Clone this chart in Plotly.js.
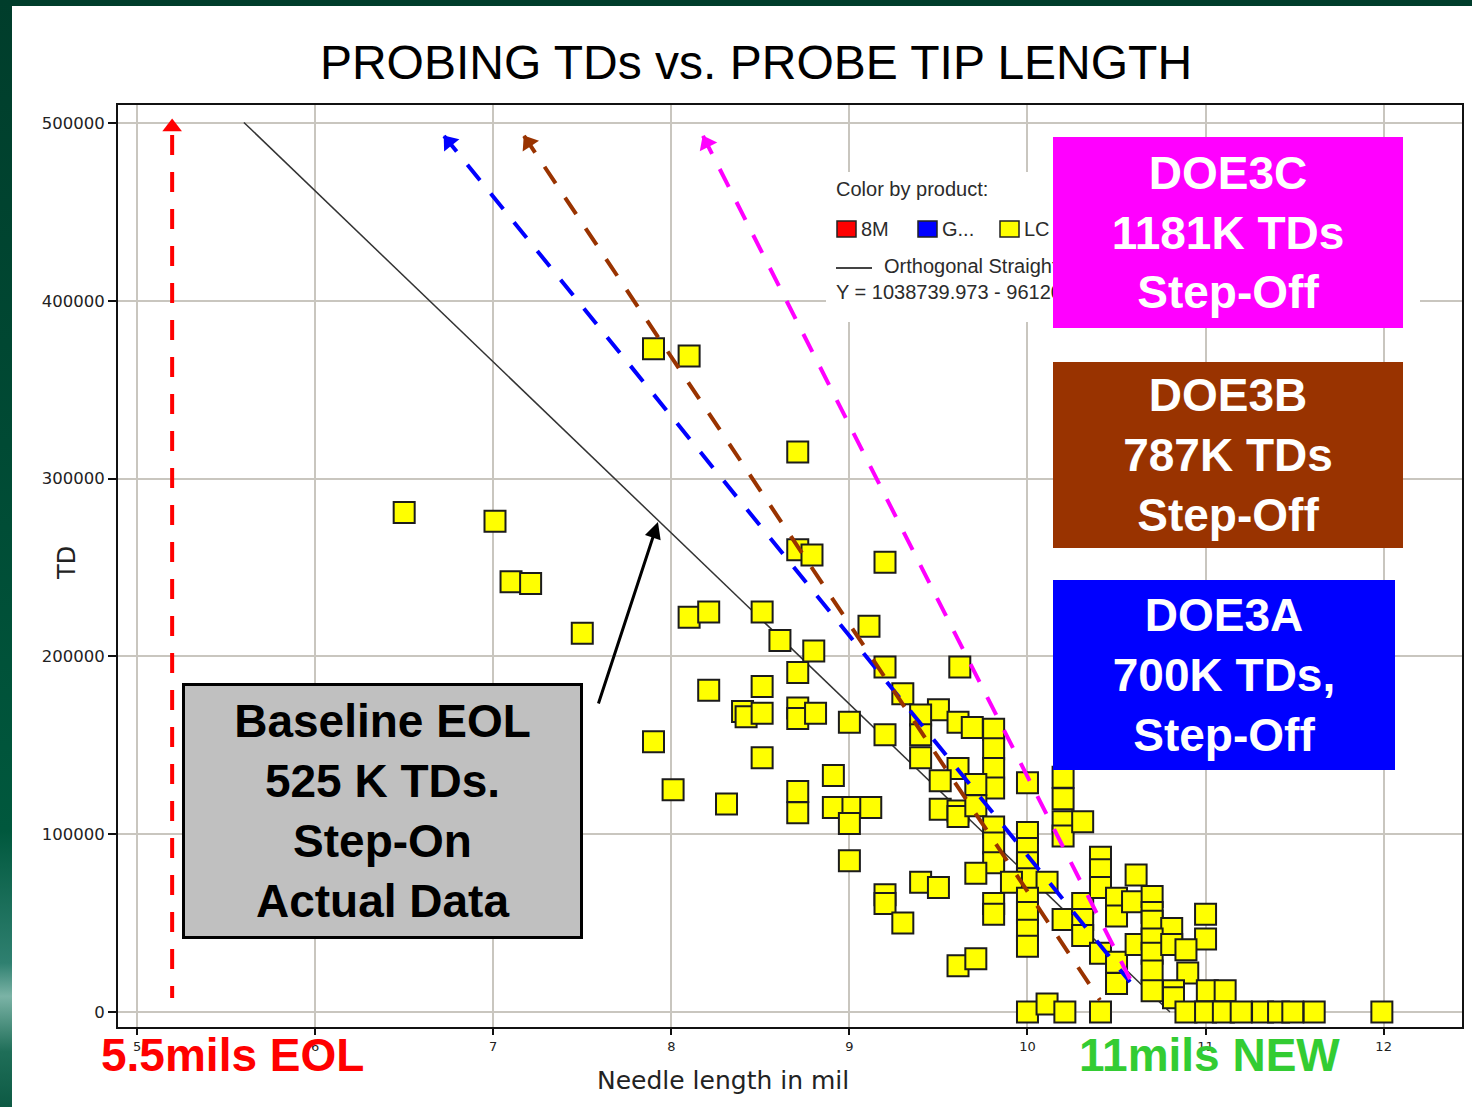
<!DOCTYPE html>
<html>
<head>
<meta charset="utf-8">
<script src="https://cdn.plot.ly/plotly-3.0.1.min.js"></script>
<style>
  html, body { margin: 0; padding: 0; width: 1472px; height: 1107px; overflow: hidden; }
  body { background: linear-gradient(to bottom, #003d2b 0%, #004a34 40%, #00583d 75%, #2f8070 87%, #7bb3a6 90%, #1f6e58 95%, #0d5a44 100%); position: relative; }
  #paper { position: absolute; left: 12px; top: 6px; width: 1460px; height: 1101px; background: #ffffff; }
  #chart { position: absolute; left: 0; top: 0; width: 1472px; height: 1107px; }
</style>
</head>
<body>
<div id="paper"></div>
<div id="chart"></div>
<script>
// ---------------- data ----------------
const pointsX = [
  6.50, 7.01, 7.10, 7.21, 7.50, 7.90, 8.10, 8.71, 8.71, 8.79, 9.20,
  8.10, 8.21, 8.51, 8.61, 8.80, 9.11, 8.71, 9.20, 8.21, 8.51, 8.40, 8.42, 8.51, 8.71, 8.71, 8.81, 9.00, 9.20,
  7.90, 8.51, 8.01, 8.31, 8.71, 8.71, 8.91, 8.91, 9.02, 9.12, 9.00, 9.00, 9.20, 9.20, 9.30, 9.40, 9.50,
  9.30, 9.62, 9.50, 9.40, 9.40, 9.40, 9.61, 9.69, 9.81, 9.81, 9.81, 9.81, 9.61, 9.71, 9.51, 9.51, 9.61, 9.61,
  9.71, 9.81, 9.81, 9.81, 10.00, 10.00, 10.00, 10.00, 10.00, 10.20, 10.20, 10.20, 10.20, 10.31, 9.71, 9.91,
  10.11, 9.81, 9.81, 10.00, 10.00, 10.00, 10.00, 10.20, 10.31, 10.31, 10.31, 10.41, 10.41, 10.41, 10.41,
  10.50, 10.50, 10.50, 10.50, 9.61, 9.71, 10.00, 10.11, 10.21, 10.41,
  10.61, 10.59, 10.70, 10.70, 10.70, 10.81, 11.00, 11.00, 10.61, 10.70, 10.70, 10.81, 10.89, 10.70, 10.90,
  10.70, 10.82, 11.01, 11.11, 10.82, 10.89, 11.00, 11.10, 11.20, 11.32, 11.41, 11.49, 11.61, 11.99
];
const pointsY = [
  281000, 276000, 242000, 241000, 213000, 373000, 369000, 315000, 260000, 257000, 253000,
  222000, 225000, 225000, 209000, 203000, 217000, 191000, 194000, 181000, 183000, 169000, 166000, 168000, 171000, 165000, 168000, 163000, 156000,
  152000, 143000, 125000, 117000, 124000, 112000, 133000, 115000, 115000, 115000, 106000, 85000, 66000, 61000, 50000, 73000, 70000,
  179000, 194000, 170000, 167000, 156000, 143000, 163000, 160000, 159000, 148000, 137000, 126000, 137000, 128000, 130000, 114000, 113000, 110000,
  116000, 104000, 95000, 84000, 101000, 92000, 84000, 75000, 129000, 132000, 120000, 107000, 99000, 107000, 78000, 73000,
  73000, 61000, 55000, 64000, 56000, 46000, 37000, 52000, 61000, 52000, 43000, 87000, 80000, 70000, 33000,
  64000, 54000, 28000, 16000, 26000, 30000, 0, 4500, 0, 0,
  77000, 62000, 65000, 56000, 51000, 47000, 55000, 41000, 38000, 41000, 33000, 38000, 35000, 23000, 22000,
  12000, 12000, 12000, 12000, 8000, 0, 0, 0, 0, 0, 0, 0, 0, 0
];

// orthogonal straight line fit (Y = 1038739.973 - 961xx * X)
const fitX = [5.60, 10.80];
const fitY = [500300, 0];

// dashed arrows (tip first, then tail)
const eolX = [5.197, 5.197];   const eolY = [493300, 7900];
const doe3aX = [6.724, 10.576]; const doe3aY = [492700, 16900];
const doe3bX = [7.173, 10.407]; const doe3bY = [492700, 6700];
const doe3cX = [8.178, 10.587]; const doe3cY = [492700, 16300];
// arrowhead centres
const headX = [5.197, 6.752, 7.198, 8.198];
const headY = [497800, 489300, 489000, 488700];

const xTicks = [5, 6, 7, 8, 9, 10, 11, 12];
const yTicks = [0, 100000, 200000, 300000, 400000, 500000];

const titleText = 'PROBING TDs vs. PROBE TIP LENGTH';
const boxC = ['DOE3C', '1181K TDs', 'Step-Off'];
const boxB = ['DOE3B', '787K TDs', 'Step-Off'];
const boxA = ['DOE3A', '700K TDs,', 'Step-Off'];
const boxBase = ['Baseline EOL', '525 K TDs.', 'Step-On', 'Actual Data'];

// ---------------- layout helpers (pixel -> paper) ----------------
const PL = 118, PR = 1462, PT = 105, PB = 1027;
const fx = px => (px - PL) / (PR - PL);
const fy = py => (PB - py) / (PB - PT);
const SANS = '"Liberation Sans", Arial, sans-serif';
const DEJA = '"DejaVu Sans", sans-serif';

function dashTrace(x, y, color) {
  return { x: x, y: y, type: 'scatter', mode: 'lines', hoverinfo: 'skip', showlegend: false,
    line: { color: color, width: 4, dash: '20px,17px' } };
}

const traces = [
  { x: fitX, y: fitY, type: 'scatter', mode: 'lines', showlegend: false,
    line: { color: '#333333', width: 1.5 } },
  dashTrace(eolX, eolY, '#ff0000'),
  { x: pointsX, y: pointsY, type: 'scatter', mode: 'markers', showlegend: false,
    marker: { symbol: 'square', size: 21, color: '#ffff00', line: { color: '#1c1c1c', width: 2 } } },
  dashTrace(doe3aX, doe3aY, '#0000ff'),
  dashTrace(doe3bX, doe3bY, '#993300'),
  dashTrace(doe3cX, doe3cY, '#ff00ff'),
  { x: headX, y: headY, type: 'scatter', mode: 'markers', showlegend: false, hoverinfo: 'skip',
    marker: { symbol: 'triangle-up', size: 17, color: ['#ff0000', '#0000ff', '#993300', '#ff00ff'],
      angle: [0, -39, -33.7, -26.9], line: { width: 0 } } }
];

function boxAnn(lines, cx, cy, w, h, bg, fg, bw) {
  return { xref: 'paper', yref: 'paper', x: fx(cx), y: fy(cy), xanchor: 'center', yanchor: 'middle',
    text: lines.join('<br>'), showarrow: false, align: 'center', valign: 'middle',
    width: w - 2 * bw, height: h - 2 * bw, bgcolor: bg, bordercolor: '#000000', borderwidth: bw, borderpad: 0,
    font: { family: SANS, size: 46, color: fg, weight: 'bold' } };
}
function legText(t, px, py) {
  return { xref: 'paper', yref: 'paper', x: fx(px), y: fy(py), xanchor: 'left', yanchor: 'middle',
    text: t, showarrow: false, font: { family: SANS, size: 20, color: '#2b2b2b' } };
}

const annotations = [
  { xref: 'paper', yref: 'paper', x: fx(67), y: fy(563), text: 'TD', textangle: -90, showarrow: false,
    xanchor: 'center', yanchor: 'middle', font: { family: DEJA, size: 24, color: '#222' } },
  { xref: 'paper', yref: 'paper', x: fx(723), y: fy(1080), text: 'Needle length in mil', showarrow: false,
    xanchor: 'center', yanchor: 'middle', font: { family: DEJA, size: 25, color: '#222' } },
  legText('Color by product:', 834, 189),
  legText('8M', 859, 229),
  legText('G...', 940, 229),
  legText('LC', 1022, 229),
  legText('Orthogonal Straight Line Fit', 882, 266),
  legText('Y = 1038739.973 - 96120.6 * X', 834, 292),
  boxAnn(boxC, 1228, 233, 350, 191, '#ff00ff', '#ffffff', 0),
  boxAnn(boxB, 1228, 455, 350, 186, '#993300', '#ffffff', 0),
  boxAnn(boxA, 1224, 675, 342, 190, '#0000ff', '#ffffff', 0),
  boxAnn(boxBase, 382.5, 811, 401, 256, '#c0c0c0', '#000000', 3),
  { xref: 'paper', yref: 'paper', x: fx(232), y: fy(1055), text: '5.5mils EOL', showarrow: false,
    xanchor: 'center', yanchor: 'middle', font: { family: SANS, size: 46, color: '#ff0000', weight: 'bold' } },
  { xref: 'paper', yref: 'paper', x: fx(1209), y: fy(1055), text: '11mils NEW', showarrow: false,
    xanchor: 'center', yanchor: 'middle', font: { family: SANS, size: 46, color: '#33cc33', weight: 'bold' } },
  { xref: 'x', yref: 'y', x: 7.925, y: 275600, ax: -60, ay: 183, text: '', showarrow: true,
    arrowhead: 2, arrowsize: 1.1, arrowwidth: 3, arrowcolor: '#000000' }
];

const shapes = [
  { type: 'rect', xref: 'paper', yref: 'paper', x0: fx(826), x1: fx(1420), y0: fy(322), y1: fy(172),
    fillcolor: '#ffffff', line: { width: 0 }, layer: 'above' },
  { type: 'rect', xref: 'paper', yref: 'paper', x0: fx(837), x1: fx(856), y0: fy(237), y1: fy(221),
    fillcolor: '#ff0000', line: { color: '#222', width: 1.5 }, layer: 'above' },
  { type: 'rect', xref: 'paper', yref: 'paper', x0: fx(918), x1: fx(937), y0: fy(237), y1: fy(221),
    fillcolor: '#0000ff', line: { color: '#222', width: 1.5 }, layer: 'above' },
  { type: 'rect', xref: 'paper', yref: 'paper', x0: fx(1000), x1: fx(1019), y0: fy(237), y1: fy(221),
    fillcolor: '#ffff00', line: { color: '#222', width: 1.5 }, layer: 'above' },
  { type: 'line', xref: 'paper', yref: 'paper', x0: fx(836), x1: fx(872), y0: fy(268), y1: fy(268),
    line: { color: '#444', width: 2 }, layer: 'above' }
];

const layout = {
  width: 1472, height: 1107,
  margin: { l: PL, r: 1472 - PR, t: PT, b: 1107 - PB, pad: 0 },
  paper_bgcolor: 'rgba(0,0,0,0)',
  plot_bgcolor: '#ffffff',
  showlegend: false,
  title: { text: titleText, xref: 'container', yref: 'container', x: 756 / 1472, y: 1 - 62 / 1107,
    xanchor: 'center', yanchor: 'middle', font: { family: SANS, size: 48, color: '#000000' } },
  xaxis: {
    range: [4.893, 12.440], tickvals: xTicks, ticktext: xTicks.map(String),
    showgrid: true, gridcolor: '#c9c6bf', gridwidth: 2, zeroline: false,
    showline: true, mirror: true, linecolor: '#111', linewidth: 2,
    ticks: 'outside', ticklen: 6, tickwidth: 2, tickcolor: '#111',
    tickfont: { family: DEJA, size: 13, color: '#222' }
  },
  yaxis: {
    range: [-8440, 510120], tickvals: yTicks, ticktext: yTicks.map(String),
    showgrid: true, gridcolor: '#c9c6bf', gridwidth: 2, zeroline: false,
    showline: true, mirror: true, linecolor: '#111', linewidth: 2,
    ticks: 'outside', ticklen: 8, tickwidth: 2, tickcolor: '#111',
    tickfont: { family: DEJA, size: 16.5, color: '#222' }
  },
  annotations: annotations,
  shapes: shapes
};

Plotly.newPlot('chart', traces, layout, { staticPlot: true, displayModeBar: false });
</script>
</body>
</html>
